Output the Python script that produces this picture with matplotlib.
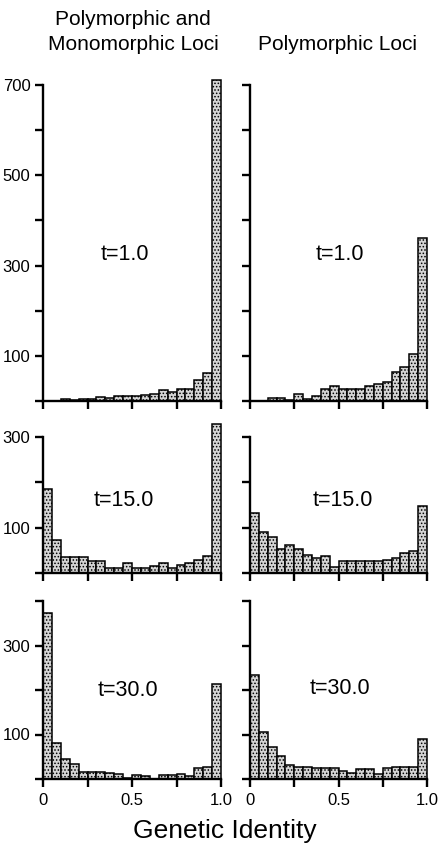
import numpy as np
import matplotlib
matplotlib.use('Agg')
import matplotlib.pyplot as plt

plt.rcParams['font.family'] = ['Liberation Sans', 'DejaVu Sans']
plt.rcParams['hatch.linewidth'] = 0.7

# 20 bins of genetic identity, width 0.05
bin_left = np.arange(20) * 0.05
bin_width = 0.05

# counts per bin
poly_mono_t1 = [0, 0, 5, 2, 4, 4, 9, 7, 10, 10, 10, 13, 15, 25, 20, 27, 27, 47, 62, 710]
poly_t1 = [0, 0, 6, 7, 2, 16, 4, 11, 27, 33, 26, 27, 27, 33, 37, 42, 65, 76, 104, 362]
poly_mono_t15 = [186, 72, 35, 35, 35, 27, 27, 12, 12, 21, 11, 11, 15, 21, 10, 18, 21, 29, 37, 329]
poly_t15 = [132, 90, 79, 52, 61, 54, 39, 32, 37, 13, 26, 26, 26, 26, 26, 28, 32, 44, 49, 147]
poly_mono_t30 = [372, 81, 45, 34, 15, 15, 15, 13, 12, 2, 10, 6, 1, 10, 10, 12, 6, 25, 28, 214]
poly_t30 = [234, 105, 72, 52, 32, 27, 27, 25, 25, 25, 19, 13, 23, 23, 12, 25, 28, 28, 28, 90]

col_titles = ['Polymorphic and\nMonomorphic Loci', 'Polymorphic Loci']
time_labels = ['t=1.0', 't=15.0', 't=30.0']
y_max = [700, 300, 400]
y_labels = [[700, 500, 300, 100], [300, 100], [300, 100]]

panels = [[poly_mono_t1, poly_t1], [poly_mono_t15, poly_t15], [poly_mono_t30, poly_t30]]

fig = plt.figure(figsize=(4.44, 8.52), dpi=100)

# pixel boxes (top, bottom) for rows and (left, right) for columns
rows_px = [(85, 401), (437, 573), (601, 779)]
cols_px = [(43, 221), (250, 427)]
W, H = 444, 852

# label positions in pixels (x centre, y centre)
tlab_px = [[(125, 254), (340, 255)], [(124, 501), (343, 501)], [(128, 690), (340, 689)]]

for r in range(3):
    for c in range(2):
        top, bot = rows_px[r]
        left, right = cols_px[c]
        ax = fig.add_axes([left / W, 1 - bot / H, (right - left) / W, (bot - top) / H])
        ax.bar(bin_left, panels[r][c], width=bin_width, align='edge',
               facecolor='#d4d4d4', edgecolor='black', linewidth=1.1,
               hatch='.....', clip_on=False, zorder=2)
        ax.set_xlim(0, 1.0)
        ax.set_ylim(0, y_max[r])
        for s in ['top', 'right']:
            ax.spines[s].set_visible(False)
        for s in ['left', 'bottom']:
            ax.spines[s].set_linewidth(1.7)
        ax.set_xticks([0, 0.25, 0.5, 0.75, 1.0])
        yt = list(range(0, y_max[r] + 1, 100))
        ax.set_yticks(yt)
        if c == 0:
            ax.set_yticklabels([str(v) if v in y_labels[r] else '' for v in yt])
        else:
            ax.set_yticklabels([])
        if r == 2:
            ax.set_xticklabels(['0', '', '0.5', '', '1.0'])
        else:
            ax.set_xticklabels([])
        ax.tick_params(direction='out', length=6, width=1.7, labelsize=12, pad=3)
        ax.tick_params(axis='x', pad=4)
        tx, ty = tlab_px[r][c]
        fig.text(tx / W, 1 - ty / H, time_labels[r], fontsize=15.5, ha='center', va='center')

fig.text(133 / W, 1 - 32 / H, col_titles[0], fontsize=15, ha='center', va='center', linespacing=1.35)
fig.text(337 / W, 1 - 45 / H, col_titles[1], fontsize=15, ha='center', va='center')
fig.text(225 / W, 1 - 831 / H, 'Genetic Identity', fontsize=19, ha='center', va='center')

fig.savefig('out.png', dpi=100)
